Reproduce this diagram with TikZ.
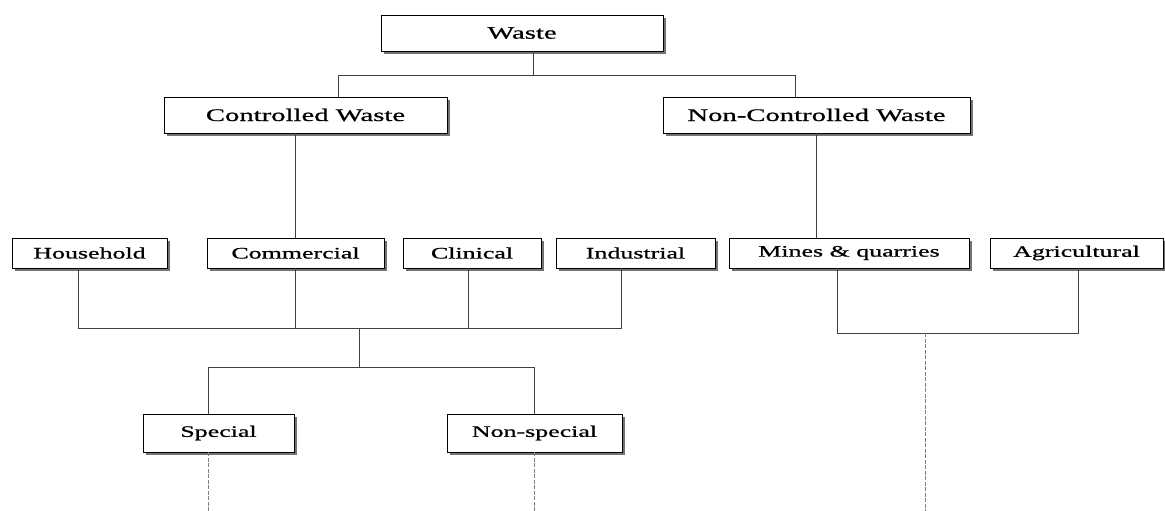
\documentclass[tikz,border=0pt]{standalone}
\usepackage{fontspec}
\usepackage{graphicx}
\setmainfont{Liberation Serif}
\newfontfamily\boxfont[FakeBold=0.7]{Liberation Serif}
\usetikzlibrary{shadows}
\newcommand{\txtA}[1]{\scalebox{1.62}[1]{\boxfont\fontsize{17.7}{20}\selectfont #1}}
\newcommand{\txtB}[1]{\scalebox{1.62}[1]{\boxfont\fontsize{16}{19}\selectfont #1}}
\begin{document}
\begin{tikzpicture}[x=1pt,y=-1pt,
  box/.style={draw=black, line width=0.9pt, fill=white, inner sep=0pt,
    drop shadow={shadow xshift=3pt, shadow yshift=-3pt, fill=black!55, opacity=1}},
  conn/.style={draw=black!75, line width=0.9pt},
  dash line/.style={draw=black!50, line width=0.9pt, dash pattern=on 4pt off 1.5pt}
]
\useasboundingbox (0,0) rectangle (1165,511);
\fill[white] (0,0) rectangle (1165,511);

% nodes
\node[box, minimum width=282pt, minimum height=36pt] (waste) at (522,33) {\txtA{Waste}};
\node[box, minimum width=283pt, minimum height=36pt] (cw) at (305.5,115) {\txtA{Controlled Waste}};
\node[box, minimum width=307pt, minimum height=36pt] (ncw) at (816.5,115) {\txtA{Non-Controlled Waste}};

\node[box, minimum width=155pt, minimum height=30pt] (household) at (89.5,253) {\txtB{Household}};
\node[box, minimum width=177pt, minimum height=30pt] (commercial) at (295.5,253) {\txtB{Commercial}};
\node[box, minimum width=138pt, minimum height=30pt] (clinical) at (472,253) {\txtB{Clinical}};
\node[box, minimum width=159pt, minimum height=30pt] (industrial) at (635.5,253) {\txtB{Industrial}};
\node[box, minimum width=240pt, minimum height=30pt] (mines) at (849,253) {\txtB{Mines \& quarries}};
\node[box, minimum width=173pt, minimum height=30pt] (agri) at (1076.5,253) {\txtB{Agricultural}};

\node[box, minimum width=151pt, minimum height=38pt] (special) at (218.5,433) {\txtB{Special}};
\node[box, minimum width=175pt, minimum height=38pt] (nonspecial) at (534.5,433) {\txtB{Non-special}};

% junction coordinates
\coordinate (tL) at (338,75);
\coordinate (tM) at (533,75);
\coordinate (tR) at (795,75);
\coordinate (b1L) at (78,328);
\coordinate (b1C) at (468,328);
\coordinate (b1M) at (359,328);
\coordinate (b1R) at (621,328);
\coordinate (b2M) at (359,367);
\coordinate (b2L) at (208,367);
\coordinate (b2R) at (534.5,367);
\coordinate (sEnd) at (208,511);
\coordinate (b3L) at (837,333);
\coordinate (b3M) at (925,333);
\coordinate (b3R) at (1078,333);
\coordinate (b3E) at (925,511);

% connectors
\draw[conn] (tL) -- (tR);
\draw[conn] (waste.south -| tM) -- (tM);
\draw[conn] (tL) -- (cw.north -| tL);
\draw[conn] (tR) -- (ncw.north -| tR);
\draw[conn] (commercial.north) -- (commercial.north |- cw.south);
\draw[conn] (ncw.south) -- (ncw.south |- mines.north);

\draw[conn] (household.south -| b1L) -- (b1L) -- (b1R) -- (industrial.south -| b1R);
\draw[conn] (commercial.south) -- (commercial.south |- b1L);
\draw[conn] (clinical.south -| b1C) -- (b1C);
\draw[conn] (b1M) -- (b2M);
\draw[conn] (special.north -| b2L) -- (b2L) -- (b2R) -- (nonspecial.north);
\draw[dash line] (special.south -| sEnd) -- (sEnd);
\draw[dash line] (nonspecial.south) -- (nonspecial.south |- sEnd);

\draw[conn] (mines.south -| b3L) -- (b3L) -- (b3R) -- (agri.south -| b3R);
\draw[dash line] (b3M) -- (b3E);
\end{tikzpicture}
\end{document}
